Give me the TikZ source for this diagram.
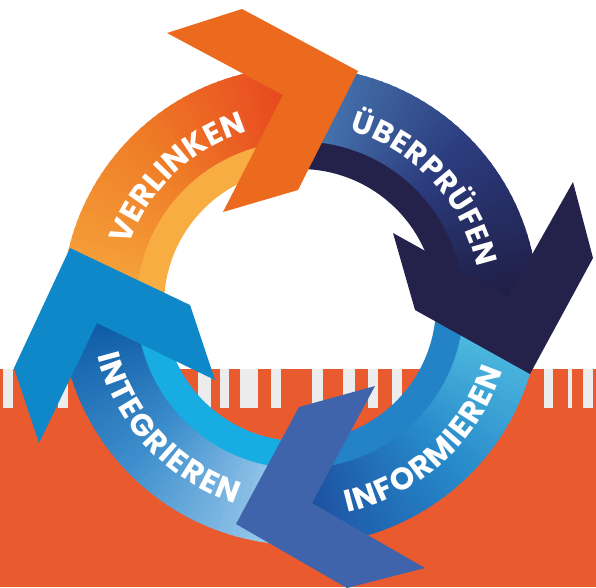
\documentclass[tikz,border=0pt]{standalone}
\usepackage{fontspec}
\newfontfamily\labelfont{Poppins}
\usetikzlibrary{decorations.text}

\definecolor{bgred}{HTML}{EA5A2F}
\definecolor{stripegray}{HTML}{ECECEC}
% orange (VERLINKEN)
\definecolor{orA}{HTML}{F6A83E}
\definecolor{orM}{HTML}{EF7E27}
\definecolor{orB}{HTML}{E8461F}
\definecolor{orInner}{HTML}{F8AD42}
\definecolor{orArrow}{HTML}{EC6A1E}
% navy (UEBERPRUEFEN)
\definecolor{nvA}{HTML}{4B80B9}
\definecolor{nvM}{HTML}{2B3B7D}
\definecolor{nvB}{HTML}{1E1C40}
\definecolor{nvInner}{HTML}{24224A}
\definecolor{nvArrow}{HTML}{24224A}
% blue (INFORMIEREN)
\definecolor{ifA}{HTML}{55C4E4}
\definecolor{ifM}{HTML}{2687C9}
\definecolor{ifB}{HTML}{1C4B9D}
\definecolor{ifInner}{HTML}{2383C6}
\definecolor{ifArrow}{HTML}{4064AB}
% light blue (INTEGRIEREN)
\definecolor{itA}{HTML}{A5D0F0}
\definecolor{itM}{HTML}{3D8ECC}
\definecolor{itB}{HTML}{0955A1}
\definecolor{itInner}{HTML}{17ADE3}
\definecolor{itArrow}{HTML}{0F88CA}

% #1 start angle, #2 end angle, #3 start colour, #4 middle colour, #5 end colour, #6 inner r, #7 outer r
\newcommand{\gradband}[7]{%
  \foreach \i in {0,...,47}{%
    \pgfmathsetmacro{\gA}{#1+(#2-#1)*\i/48}%
    \pgfmathsetmacro{\gB}{#1+(#2-#1)*(\i+1.4)/48}%
    \ifnum\i<24
      \pgfmathtruncatemacro{\pp}{100*\i/24}%
      \colorlet{slc}{#4!\pp!#3}%
    \else
      \pgfmathtruncatemacro{\pp}{100*(\i-24)/23}%
      \colorlet{slc}{#5!\pp!#4}%
    \fi
    \fill[slc] (\gA:#6) arc[start angle=\gA, end angle=\gB, radius=#6]
      -- (\gB:#7) arc[start angle=\gB, end angle=\gA, radius=#7] -- cycle;
  }%
}
\newcommand{\solidband}[5]{%
  \fill[#3] (#1:#4) arc[start angle=#1, end angle=#2, radius=#4]
    -- (#2:#5) arc[start angle=#2, end angle=#1, radius=#5] -- cycle;
}

\tikzset{
  lbl/.style 2 args={decorate, decoration={text along path, text align=fit to path,
      text={|\labelfont\bfseries\fontsize{#2}{#2}\selectfont\color{white}|#1}}},
}

\begin{document}
\begin{tikzpicture}[x=1pt, y=1pt]
\useasboundingbox (0,0) rectangle (596,-587);
% background
\fill[white] (0,0) rectangle (596,-369);
\fill[bgred] (0,-369) rectangle (596,-587);
\foreach \a/\b in {3/13, 58/68, 198/211, 220/229, 240/258, 271/281, 312/323,
                   343/355, 368/378, 392/402, 544/553, 568/572, 583/593}
  \fill[stripegray] (\a,-369) rectangle (\b,-408);

% ring
\begin{scope}[shift={(300,-305)}]
  % VERLINKEN
  \gradband{180}{92}{orA}{orM}{orB}{163}{238}
  \solidband{180}{92}{orInner}{136}{163.5}
  % UEBERPRUEFEN
  \gradband{92}{-2}{nvA}{nvM}{nvB}{163}{238}
  \solidband{92}{-2}{nvInner}{136}{163.5}
  % INFORMIEREN
  \gradband{-2}{-92}{ifA}{ifM}{ifB}{163}{240}
  \solidband{-2}{-92}{ifInner}{136}{163.5}
  % INTEGRIEREN
  \gradband{268}{180}{itA}{itM}{itB}{163}{240}
  \solidband{268}{180}{itInner}{136}{163.5}
\end{scope}

% arrow heads
\fill[orArrow] (167,-33) -- (242,-9) -- (358,-71) -- (298,-190) -- (223,-212) -- (283,-95) -- cycle;
\fill[nvArrow] (393,-233) -- (415,-310) -- (530,-374) -- (593,-258) -- (573,-182) -- (508,-297) -- cycle;
\fill[ifArrow] (375,-386) -- (299,-407) -- (236,-524) -- (347,-588) -- (425,-568) -- (312,-503) -- cycle;
\fill[itArrow] (70,-248) -- (190,-305) -- (215,-380) -- (97,-323) -- (39,-443) -- (14,-368) -- cycle;

% labels
\begin{scope}[shift={(300,-305)}]
  \path[lbl={VERLINKEN}{31}] (161:181) arc[start angle=161, end angle=107, radius=181];
  \path[lbl={ÜBERPRÜFEN}{30}] (74:181) arc[start angle=74, end angle=12, radius=181];
  \path[lbl={INFORMIEREN}{31}] (-77:213) arc[start angle=-77, end angle=-18, radius=213];
  \path[lbl={INTEGRIEREN}{31}] (194:209) arc[start angle=194, end angle=252, radius=209];
\end{scope}
\end{tikzpicture}
\end{document}
